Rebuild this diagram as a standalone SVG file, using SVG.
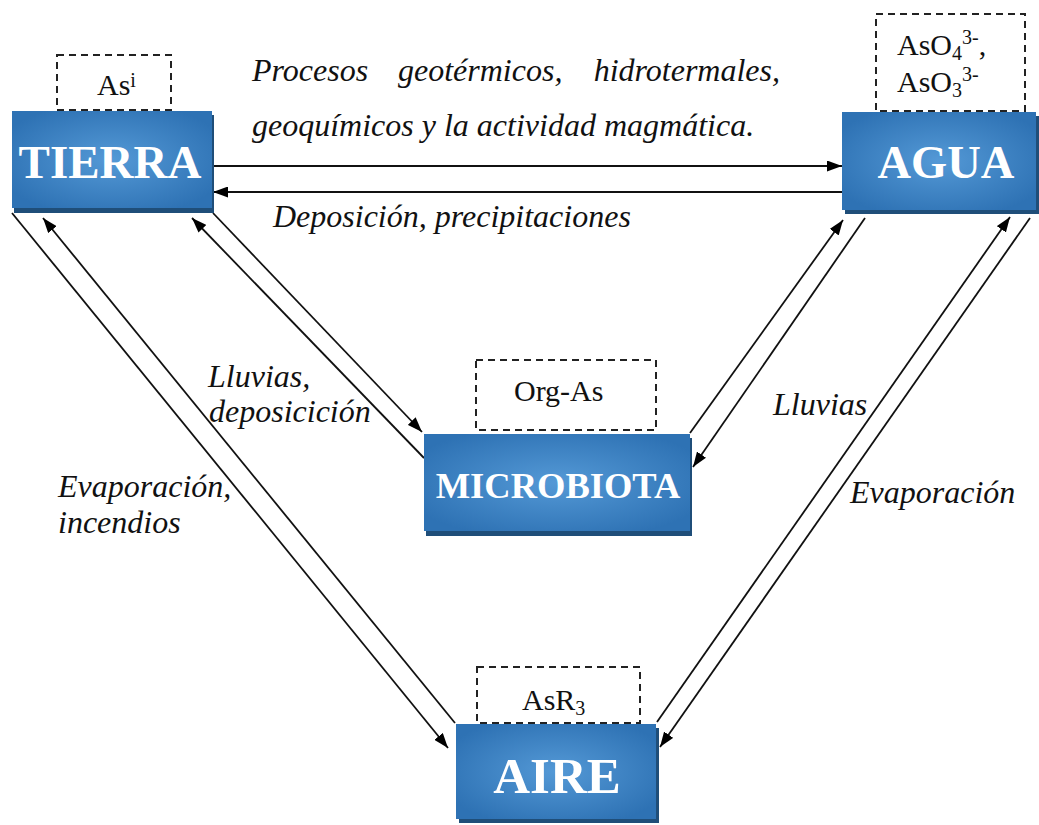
<svg xmlns="http://www.w3.org/2000/svg" width="1039" height="825" viewBox="0 0 1039 825">
<style>
.box{fill:url(#bg)}
.sh{fill:#1f4e79}
.nt{font-family:"Liberation Serif","Times New Roman",serif;font-weight:bold;fill:#fff;text-anchor:middle}
.dash{fill:none;stroke:#222;stroke-width:2;stroke-dasharray:7,5}
.bt{font-family:"Liberation Serif","Times New Roman",serif;font-size:30px;fill:#111}
.lbl{font-family:"Liberation Serif","Times New Roman",serif;font-style:italic;font-size:32px;fill:#111}
.con line{stroke:#111;stroke-width:1.8}
.ar{marker-end:url(#ah)}
</style>
<defs>
<radialGradient id="bg" cx="0.5" cy="0.5" r="0.6">
<stop offset="0" stop-color="#5499d6"/>
<stop offset="1" stop-color="#2e72b4"/>
</radialGradient>
<marker id="ah" markerWidth="15" markerHeight="11" refX="15" refY="5.5" orient="auto" markerUnits="userSpaceOnUse">
<path d="M0,0 L15,5.5 L0,11 z" fill="#000"/>
</marker>
</defs>
<rect width="1039" height="825" fill="#fff"/>

<g class="con" id="connectors">
<line class="ar" x1="213" y1="166" x2="842" y2="166"/>
<line class="ar" x1="842" y1="192" x2="213" y2="192"/>
<line class="ar" x1="12" y1="213" x2="448" y2="748"/>
<line class="ar" x1="455" y1="723" x2="43" y2="218"/>
<line class="ar" x1="213" y1="213" x2="422" y2="432"/>
<line class="ar" x1="424" y1="458" x2="192" y2="218"/>
<line class="ar" x1="690" y1="433" x2="843" y2="220"/>
<line class="ar" x1="865" y1="218" x2="693" y2="467"/>
<line class="ar" x1="657" y1="722" x2="1010" y2="217"/>
<line class="ar" x1="1030" y1="218" x2="660" y2="747"/>
</g>

<g id="labels">
<text class="lbl" x="252" y="81">Procesos</text>
<text class="lbl" x="398" y="81">geotérmicos,</text>
<text class="lbl" x="780" y="81" text-anchor="end">hidrotermales,</text>
<text class="lbl" x="252" y="136">geoquímicos y la actividad magmática.</text>
<text class="lbl" x="273" y="227">Deposición, precipitaciones</text>
<text class="lbl" x="208" y="387">Lluvias,</text>
<text class="lbl" x="209" y="422">deposicición</text>
<text class="lbl" x="58" y="497">Evaporación,</text>
<text class="lbl" x="58" y="533">incendios</text>
<text class="lbl" x="773" y="415">Lluvias</text>
<text class="lbl" x="850" y="503">Evaporación</text>
</g>

<g id="tierra">
<rect class="dash" x="57" y="55" width="114" height="55"/>
<text class="bt" x="97" y="95">As<tspan font-size="20" dy="-8">i</tspan></text>
<rect class="sh" x="14" y="115" width="200" height="98"/>
<rect class="box" x="12" y="111" width="200" height="97"/>
<text class="nt" x="110" y="178" font-size="47">TIERRA</text>
</g>

<g id="agua">
<rect class="dash" x="876" y="14" width="149" height="97"/>
<text class="bt" x="897" y="55">AsO<tspan font-size="20" dy="5">4</tspan><tspan font-size="20" dy="-16">3-</tspan><tspan dy="11">,</tspan></text>
<text class="bt" x="897" y="92">AsO<tspan font-size="20" dy="5">3</tspan><tspan font-size="20" dy="-16">3-</tspan></text>
<rect class="sh" x="845" y="116" width="194" height="98"/>
<rect class="box" x="842" y="112" width="194" height="98"/>
<text class="nt" x="946" y="178" font-size="46.5">AGUA</text>
</g>

<g id="microbiota">
<rect class="dash" x="476" y="360" width="180" height="70"/>
<text class="bt" x="514" y="401">Org-As</text>
<rect class="sh" x="426" y="438" width="266" height="98"/>
<rect class="box" x="424" y="434" width="266" height="97"/>
<text class="nt" x="558" y="498" font-size="36.5">MICROBIOTA</text>
</g>

<g id="aire">
<rect class="dash" x="477" y="667" width="163" height="56"/>
<text class="bt" x="522" y="710">AsR<tspan font-size="20" dy="5">3</tspan></text>
<rect class="sh" x="459" y="728" width="200" height="95"/>
<rect class="box" x="456" y="724" width="200" height="95"/>
<text class="nt" x="557" y="793" font-size="51">AIRE</text>
</g>
</svg>
